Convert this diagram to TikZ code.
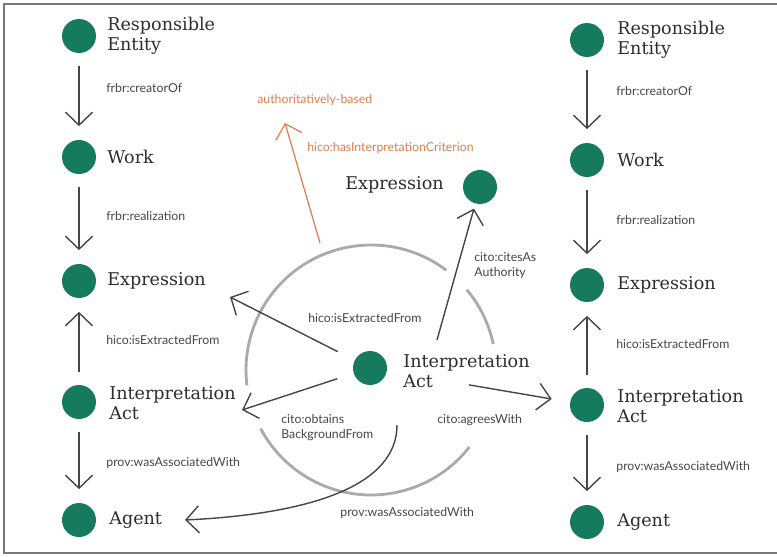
\documentclass[tikz,border=0pt]{standalone}
\usepackage{fontspec}
\setmainfont{DejaVu Serif}
\newfontfamily\edgefont{Lato}
\usetikzlibrary{arrows.meta}
\definecolor{dotgreen}{RGB}{22,122,95}
\definecolor{critorange}{RGB}{226,124,78}
\definecolor{textgray}{RGB}{45,45,45}
\definecolor{edgegray}{RGB}{70,70,70}
\definecolor{ringgray}{RGB}{170,170,170}
\definecolor{framegray}{RGB}{120,120,120}

\begin{document}
\begin{tikzpicture}[x=0.02cm,y=0.02cm,
    dot/.style={circle,fill=dotgreen,minimum size=0.68cm,inner sep=0pt},
    classtext/.style={anchor=west,align=left,font=\fontsize{10}{11.3}\selectfont,text=textgray,inner sep=0pt},
    reltext/.style={anchor=west,align=left,font=\edgefont\fontsize{7}{8.6}\selectfont,text=edgegray,inner sep=0pt},
    barb/.style={-{Straight Barb[length=0.26cm,width=0.54cm]}},
    colarrow/.style={barb,draw=edgegray,line width=0.8pt,shorten <=0.26cm,shorten >=0.27cm},
    actarrow/.style={barb,draw=edgegray,line width=0.8pt},
    critarrow/.style={barb,draw=critorange,line width=0.7pt},
    ring/.style={draw=ringgray,line width=1.6pt},
    frame/.style={draw=framegray,line width=1.3pt}]

    % Fix the size of the picture
    \useasboundingbox (0,0) rectangle (777,556);

    % Frame round the picture (the right side is cut off)
    \draw[frame] (777,552) -- (4,552) -- (4,3) -- (777,3);

    % Left column
    \node[dot] (lRE) at (79,520) {};
    \node[dot] (lWork) at (79,399) {};
    \node[dot] (lExpr) at (79,275) {};
    \node[dot] (lIA) at (79,154) {};
    \node[dot] (lAgent) at (79,36) {};

    \node[classtext] (lREt) at (107,520) {Responsible\\Entity};
    \node[classtext] (lWorkt) at (107,399) {Work};
    \node[classtext] (lExprt) at (107,275) {Expression};
    \node[classtext] (lIAt) at (109,153) {Interpretation\\Act};
    \node[classtext] (lAgentt) at (109,36) {Agent};

    \draw[colarrow] (lRE) -- (lWork);
    \draw[colarrow] (lWork) -- (lExpr);
    \draw[colarrow] (lIA) -- (lExpr);
    \draw[colarrow] (lIA) -- (lAgent);

    \node[reltext] (lRel1) at (106,468) {frbr:creatorOf};
    \node[reltext] (lRel2) at (106,340) {frbr:realization};
    \node[reltext] (lRel3) at (106,216) {hico:isExtractedFrom};
    \node[reltext] (lRel4) at (106,93) {prov:wasAssociatedWith};

    % Right column
    \node[dot] (rRE) at (587,516) {};
    \node[dot] (rWork) at (587,396) {};
    \node[dot] (rExpr) at (587,271) {};
    \node[dot] (rIA) at (587,151) {};
    \node[dot] (rAgent) at (587,34) {};

    \node[classtext] (rREt) at (617,516) {Responsible\\Entity};
    \node[classtext] (rWorkt) at (617,396) {Work};
    \node[classtext] (rExprt) at (617,271) {Expression};
    \node[classtext] (rIAt) at (617,150) {Interpretation\\Act};
    \node[classtext] (rAgentt) at (617,34) {Agent};

    \draw[colarrow] (rRE) -- (rWork);
    \draw[colarrow] (rWork) -- (rExpr);
    \draw[colarrow] (rIA) -- (rExpr);
    \draw[colarrow] (rIA) -- (rAgent);

    \node[reltext] (rRel1) at (616,465) {frbr:creatorOf};
    \node[reltext] (rRel2) at (616,336) {frbr:realization};
    \node[reltext] (rRel3) at (616,212) {hico:isExtractedFrom};
    \node[reltext] (rRel4) at (616,89) {prov:wasAssociatedWith};

    % Centre: the interpretation act and the ring round it
    \coordinate (ringC) at (371,186);
    \draw[ring] (ringC) ++(53:2.5cm) arc (53:187:2.5cm);
    \draw[ring] (ringC) ++(208:2.5cm) arc (208:322:2.5cm);
    \draw[ring] (ringC) ++(12:2.5cm) arc (12:40:2.5cm);

    \node[dot] (cIA) at (370,188) {};
    \node[classtext] (cIAt) at (403,185) {Interpretation\\Act};

    % Expression cited as authority
    \node[dot] (tExpr) at (480,369) {};
    \node[classtext,anchor=east] (tExprt) at (444,371) {Expression};

    % End points of the arrows from the centre
    \coordinate (toLExpr) at (230,259);
    \coordinate (toLIA) at (242,146);
    \coordinate (fromCites) at (437,216);
    \coordinate (provFrom) at (397,131);
    \coordinate (provTo) at (185,36);
    \coordinate (critFrom) at (320,313);
    \coordinate (critTo) at (285,433);

    \draw[actarrow,shorten <=0.38cm] (cIA) -- (toLExpr);
    \draw[actarrow,shorten <=0.34cm] (cIA) -- (toLIA);
    \draw[actarrow,shorten <=1.66cm,shorten >=0.37cm] (cIA) -- (rIA);
    \draw[actarrow,shorten >=0.1cm] (fromCites) -- (tExpr);
    \draw[actarrow] (provFrom) .. controls (397,70) and (310,42) .. (provTo);
    \draw[critarrow] (critFrom) -- (critTo);

    \node[reltext] (cRel1) at (308,238) {hico:isExtractedFrom};
    \node[reltext] (cRel2) at (281,128) {cito:obtains\\BackgroundFrom};
    \node[reltext] (cRel3) at (437,136) {cito:agreesWith};
    \node[reltext] (cRel4) at (340,43) {prov:wasAssociatedWith};
    \node[reltext] (cRel5) at (474,290) {cito:citesAs\\Authority};

    % Interpretation criterion
    \node[reltext,text=critorange] (crit) at (307,408) {hico:hasInterpretationCriterion};
    \node[reltext,text=critorange] (auth) at (257,456) {authoritatively-based};

\end{tikzpicture}
\end{document}
